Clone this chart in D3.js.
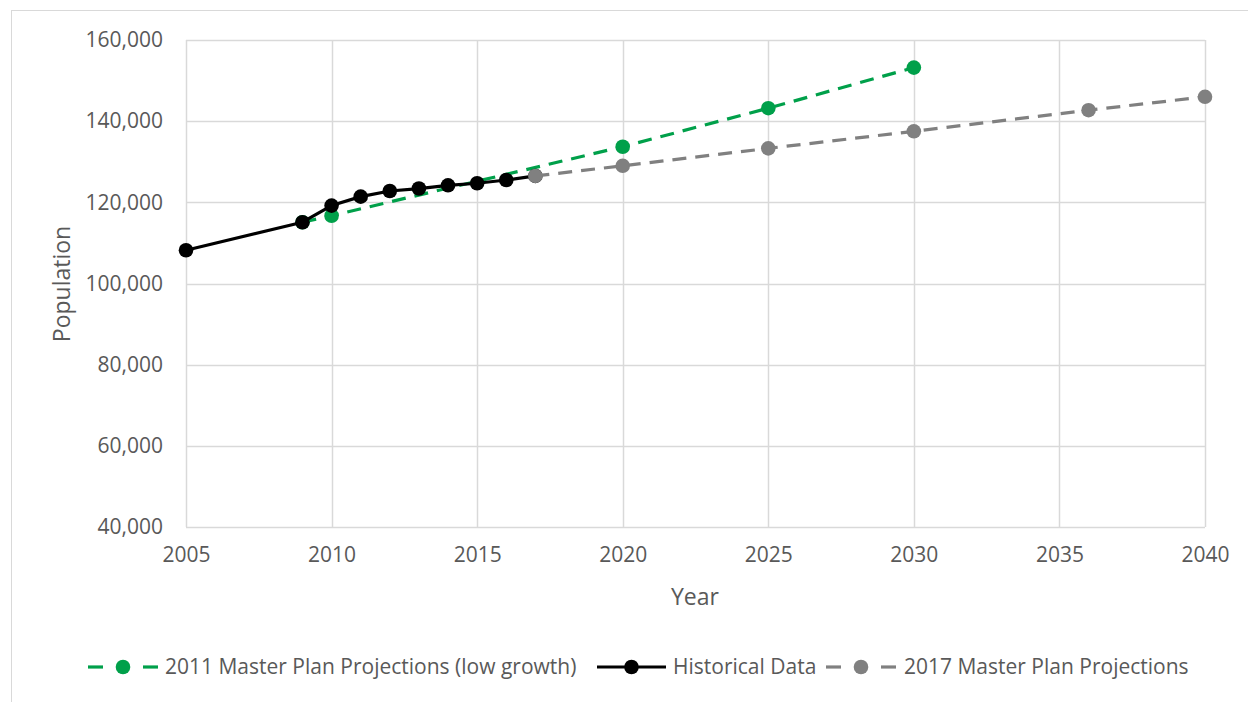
<!DOCTYPE html>
<html>
<head>
<meta charset="utf-8">
<script src="https://cdn.jsdelivr.net/npm/d3@7"></script>
<style>
  html, body { margin: 0; padding: 0; background: #fff; }
  svg text { font-family: "Open Sans", "Noto Sans", sans-serif; fill: #595959; }
</style>
</head>
<body>
<svg id="chart" width="1248" height="702"></svg>
<script>
// Population series
const historicalYears = [2005, 2009, 2010, 2011, 2012, 2013, 2014, 2015, 2016, 2017];
const historicalPop   = [108200, 115100, 119200, 121400, 122800, 123400, 124200, 124700, 125500, 126500];

const plan2011Years = [2009, 2010, 2020, 2025, 2030];
const plan2011Pop   = [115100, 116700, 133700, 143200, 153200];

const plan2017Years = [2017, 2020, 2025, 2030, 2036, 2040];
const plan2017Pop   = [126500, 129000, 133300, 137500, 142700, 146000];

const xTicks = [2005, 2010, 2015, 2020, 2025, 2030, 2035, 2040];
const yTicks = [40000, 60000, 80000, 100000, 120000, 140000, 160000];

const legendLabels = ["2011 Master Plan Projections (low growth)", "Historical Data", "2017 Master Plan Projections"];

const svg = d3.select("#chart");

// chart frame
svg.append("rect")
  .attr("x", 11.5).attr("y", 10.5)
  .attr("width", 1260).attr("height", 720)
  .attr("fill", "none").attr("stroke", "#d9d9d9").attr("stroke-width", 1);

const x = d3.scaleLinear().domain([2005, 2040]).range([186, 1205]);
const y = d3.scaleLinear().domain([40000, 160000]).range([527, 40]);

// gridlines
svg.append("g").selectAll("line").data(yTicks).join("line")
  .attr("x1", x(2005)).attr("x2", x(2040))
  .attr("y1", d => Math.round(y(d)) + 0.5).attr("y2", d => Math.round(y(d)) + 0.5)
  .attr("stroke", "#d9d9d9").attr("stroke-width", 1.5);
svg.append("g").selectAll("line").data(xTicks).join("line")
  .attr("y1", y(40000)).attr("y2", y(160000))
  .attr("x1", d => Math.round(x(d)) + 0.5).attr("x2", d => Math.round(x(d)) + 0.5)
  .attr("stroke", "#d9d9d9").attr("stroke-width", 1.5);

// axes
const fmt = d3.format(",");
const yAxis = svg.append("g")
  .attr("transform", `translate(${x(2005)},0)`)
  .call(d3.axisLeft(y).tickValues(yTicks).tickFormat(fmt).tickSize(0).tickPadding(23));
yAxis.select(".domain").remove();
yAxis.selectAll("text").style("font-size", "21px").attr("fill", "#595959");

const xAxis = svg.append("g")
  .attr("transform", `translate(0,${y(40000)})`)
  .call(d3.axisBottom(x).tickValues(xTicks).tickFormat(d3.format("d")).tickSize(0).tickPadding(20));
xAxis.select(".domain").remove();
xAxis.selectAll("text").style("font-size", "21px").attr("fill", "#595959");

// axis titles
svg.append("text")
  .attr("x", 695).attr("y", 605)
  .attr("text-anchor", "middle")
  .style("font-size", "23px")
  .text("Year");
svg.append("text")
  .attr("transform", "translate(70,284) rotate(-90)")
  .attr("text-anchor", "middle")
  .style("font-size", "23px")
  .text("Population");

// series
const series = [
  { years: plan2011Years, pop: plan2011Pop, color: "#00A04A", dash: "14,9" },
  { years: historicalYears, pop: historicalPop, color: "#000000", dash: null },
  { years: plan2017Years, pop: plan2017Pop, color: "#808080", dash: "14,9" }
];

const line = d3.line().x(d => x(d[0])).y(d => y(d[1]));

series.forEach(s => {
  const pts = s.years.map((yr, i) => [yr, s.pop[i]]);
  const g = svg.append("g");
  g.append("path")
    .datum(pts)
    .attr("d", line)
    .attr("fill", "none")
    .attr("stroke", s.color)
    .attr("stroke-width", 3.2)
    .attr("stroke-dasharray", s.dash)
    .attr("stroke-linejoin", "round");
  g.selectAll("circle").data(pts).join("circle")
    .attr("cx", d => x(d[0])).attr("cy", d => y(d[1]))
    .attr("r", 7.3)
    .attr("fill", s.color);
});

// legend
const legendY = 667;
const legendItems = [
  { x0: 88, w: 70, textX: 165, ...series[0] },
  { x0: 597, w: 69, textX: 673, ...series[1] },
  { x0: 826, w: 70, textX: 904, ...series[2] }
];
legendItems.forEach((it, i) => {
  const g = svg.append("g");
  if (it.dash) {
    g.append("line").attr("x1", it.x0).attr("x2", it.x0 + 15)
      .attr("y1", legendY).attr("y2", legendY)
      .attr("stroke", it.color).attr("stroke-width", 3.2);
    g.append("line").attr("x1", it.x0 + it.w - 15).attr("x2", it.x0 + it.w)
      .attr("y1", legendY).attr("y2", legendY)
      .attr("stroke", it.color).attr("stroke-width", 3.2);
  } else {
    g.append("line").attr("x1", it.x0).attr("x2", it.x0 + it.w)
      .attr("y1", legendY).attr("y2", legendY)
      .attr("stroke", it.color).attr("stroke-width", 3.2);
  }
  g.append("circle").attr("cx", it.x0 + it.w / 2).attr("cy", legendY)
    .attr("r", 7.3).attr("fill", it.color);
  g.append("text").attr("x", it.textX).attr("y", legendY)
    .attr("dy", "0.35em")
    .style("font-size", "21px")
    .text(legendLabels[i]);
});
</script>
</body>
</html>
